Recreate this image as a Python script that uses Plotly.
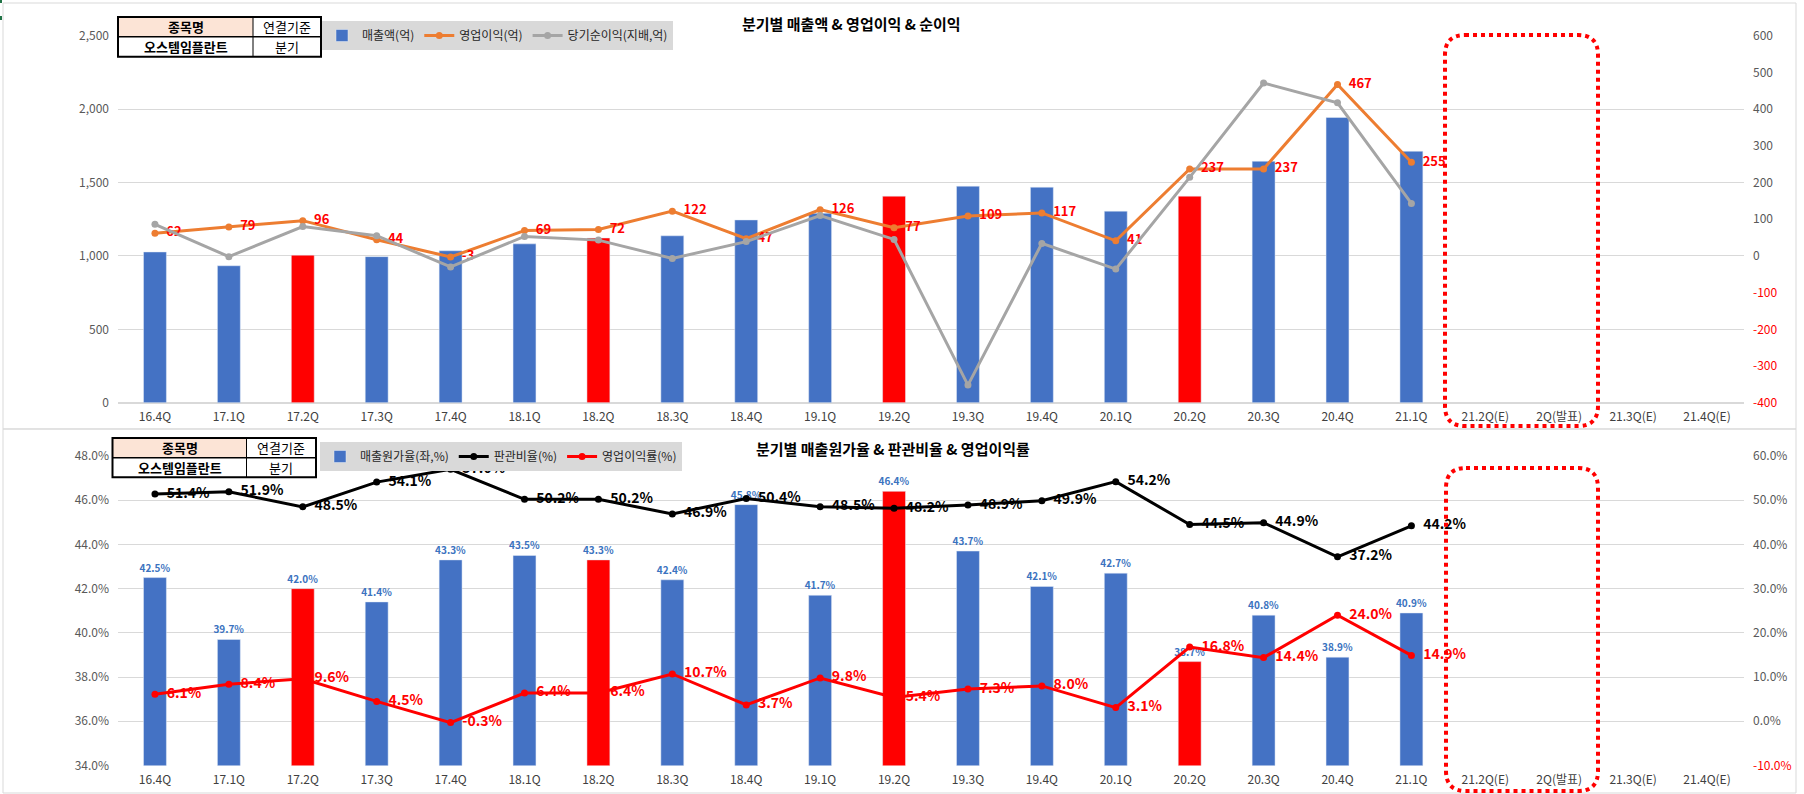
import plotly.graph_objects as go

W, H = 1804, 794

def px(x):
    return x / W

def py(y):
    return 1 - y / H

# categories
quarters = ["16.4Q", "17.1Q", "17.2Q", "17.3Q", "17.4Q", "18.1Q", "18.2Q", "18.3Q", "18.4Q",
            "19.1Q", "19.2Q", "19.3Q", "19.4Q", "20.1Q", "20.2Q", "20.3Q", "20.4Q", "21.1Q"]
future_quarters = ["21.2Q(E)", "2Q(발표)", "21.3Q(E)", "21.4Q(E)"]
all_quarters = quarters + future_quarters

# top chart (억)
revenue = [1027, 933, 1005, 995, 1035, 1082, 1122, 1137, 1245, 1290, 1407, 1475, 1468, 1305,
           1407, 1645, 1943, 1713]
op_profit = [62, 79, 96, 44, -3, 69, 72, 122, 47, 126, 77, 109, 117, 41, 237, 237, 467, 255]
net_income = [86, -2, 80, 55, -30, 53, 43, -7, 39, 110, 45, -352, 34, -36, 214, 471, 417, 143]

# bottom chart (%)
cost_ratio = [42.5, 39.7, 42.0, 41.4, 43.3, 43.5, 43.3, 42.4, 45.8, 41.7, 46.4, 43.7, 42.1, 42.7,
              38.7, 40.8, 38.9, 40.9]
sga_ratio = [51.4, 51.9, 48.5, 54.1, 57.0, 50.2, 50.2, 46.9, 50.4, 48.5, 48.2, 48.9, 49.9, 54.2,
             44.5, 44.9, 37.2, 44.2]
op_margin = [6.1, 8.4, 9.6, 4.5, -0.3, 6.4, 6.4, 10.7, 3.7, 9.8, 5.4, 7.3, 8.0, 3.1, 16.8, 14.4,
             24.0, 14.9]

top_right_ticks = [600, 500, 400, 300, 200, 100, 0, -100, -200, -300, -400]
bottom_right_ticks = [60, 50, 40, 30, 20, 10, 0, -10]

BLUE = "#4472C4"
RED = "#FF0000"
FONT = "Noto Sans CJK KR"
GAP = "\u00a0\u00a0"  # space between marker and its label

# 2Q bars are highlighted red
bar_colors = [RED if q.endswith("2Q") else BLUE for q in quarters]

fig = go.Figure()

# ---- top chart
fig.add_trace(go.Bar(x=quarters, y=revenue, name="매출액(억)", marker_color=bar_colors,
                     width=0.31, xaxis="x", yaxis="y", legend="legend"))
fig.add_trace(go.Scatter(x=quarters, y=op_profit, name="영업이익(억)", mode="lines+markers+text",
                         line=dict(color="#ED7D31", width=3), marker=dict(size=7),
                         text=[GAP + str(v) for v in op_profit], textposition="middle right",
                         textfont=dict(color=RED, size=13, weight="bold"),
                         cliponaxis=False, xaxis="x", yaxis="y2", legend="legend"))
fig.add_trace(go.Scatter(x=quarters, y=net_income, name="당기순이익(지배,억)", mode="lines+markers",
                         line=dict(color="#A5A5A5", width=3), marker=dict(size=7),
                         xaxis="x", yaxis="y2", legend="legend"))

# ---- bottom chart
fig.add_trace(go.Bar(x=quarters, y=cost_ratio, name="매출원가율(좌,%)", marker_color=bar_colors,
                     width=0.31, text=[f"{v:.1f}%" for v in cost_ratio], textposition="outside",
                     textfont=dict(color="#3B73C0", size=10, weight="bold"), constraintext="none",
                     cliponaxis=False, xaxis="x2", yaxis="y3", legend="legend2"))
fig.add_trace(go.Scatter(x=quarters, y=sga_ratio, name="판관비율(%)", mode="lines+markers+text",
                         line=dict(color="black", width=3), marker=dict(size=7),
                         text=[f"{GAP}{v:.1f}%" for v in sga_ratio], textposition="middle right",
                         textfont=dict(color="black", size=14, weight="bold"),
                         cliponaxis=False, xaxis="x2", yaxis="y4", legend="legend2"))
fig.add_trace(go.Scatter(x=quarters, y=op_margin, name="영업이익률(%)", mode="lines+markers+text",
                         line=dict(color=RED, width=3), marker=dict(size=7),
                         text=[f"{GAP}{v:.1f}%" for v in op_margin], textposition="middle right",
                         textfont=dict(color=RED, size=14, weight="bold"),
                         cliponaxis=False, xaxis="x2", yaxis="y4", legend="legend2"))


def right_labels(vals, fmt):
    out = []
    for v in vals:
        s = fmt.format(v)
        out.append(f'<span style="color:{RED}">{s}</span>' if v < 0 else s)
    return out


x_dom = [px(118), px(1744)]
xcommon = dict(domain=x_dom, type="category", categoryorder="array", categoryarray=all_quarters,
               range=[-0.5, len(all_quarters) - 0.5], showgrid=False, showline=False,
               tickfont=dict(size=12, color="#404040"), ticks="", ticklabelstandoff=5,
               automargin=False)
gridc = "#D9D9D9"
tickf = dict(size=12, color="#595959")

fig.update_layout(
    width=W, height=H,
    margin=dict(l=0, r=0, t=0, b=0, autoexpand=False),
    paper_bgcolor="white", plot_bgcolor="white",
    font=dict(family=FONT, color="#262626"),
    barmode="overlay",
    xaxis=dict(anchor="y", **xcommon),
    xaxis2=dict(anchor="y3", **xcommon),
    yaxis=dict(domain=[py(402.7), py(35.7)], range=[0, 2500], dtick=500, tickformat=",",
               gridcolor=gridc, zeroline=True, zerolinecolor=gridc, tickfont=tickf,
               ticklabelstandoff=8, automargin=False),
    yaxis2=dict(overlaying="y", side="right", range=[-400, 600], showgrid=False, zeroline=False,
                tickvals=top_right_ticks, ticktext=right_labels(top_right_ticks, "{}"),
                tickfont=tickf, ticklabelstandoff=8, automargin=False),
    yaxis3=dict(domain=[py(765.5), py(456)], range=[34, 48], dtick=2, tickformat=".1f",
                ticksuffix="%", gridcolor=gridc, zeroline=False, tickfont=tickf,
                ticklabelstandoff=8, automargin=False),
    yaxis4=dict(overlaying="y3", side="right", range=[-10, 60], showgrid=False, zeroline=False,
                tickvals=bottom_right_ticks, ticktext=right_labels(bottom_right_ticks, "{:.1f}%"),
                tickfont=tickf, ticklabelstandoff=8, automargin=False),
    legend=dict(orientation="h", x=px(322), y=py(21), xanchor="left", yanchor="top",
                bgcolor="#D9D9D9", font=dict(size=12, color="#262626"), itemwidth=30),
    legend2=dict(orientation="h", x=px(320), y=py(442), xanchor="left", yanchor="top",
                 bgcolor="#D9D9D9", font=dict(size=12, color="#262626"), itemwidth=30),
)

shapes = []
annotations = []

# chart frames
for y0, y1 in [(3, 429), (429, 793)]:
    shapes.append(dict(type="rect", xref="paper", yref="paper", x0=px(3), x1=px(1796),
                       y0=py(y1), y1=py(y0), line=dict(color=gridc, width=1),
                       fillcolor="rgba(0,0,0,0)", layer="below"))
for y0, y1 in [(0, 3), (16, 20)]:
    shapes.append(dict(type="line", xref="paper", yref="paper", x0=px(1), x1=px(1),
                       y0=py(y0), y1=py(y1), line=dict(color="#217346", width=2)))


# stock name tables
def table(x0, xm, x1, y0, ym, y1):
    shapes.append(dict(type="rect", xref="paper", yref="paper", x0=px(x0), x1=px(xm),
                       y0=py(ym), y1=py(y0), fillcolor="#FCE4D6", line=dict(width=0),
                       layer="above"))
    shapes.append(dict(type="rect", xref="paper", yref="paper", x0=px(xm), x1=px(x1),
                       y0=py(ym), y1=py(y0), fillcolor="white", line=dict(width=0),
                       layer="above"))
    shapes.append(dict(type="rect", xref="paper", yref="paper", x0=px(x0), x1=px(x1),
                       y0=py(y1), y1=py(ym), fillcolor="white", line=dict(width=0),
                       layer="above"))
    shapes.append(dict(type="line", xref="paper", yref="paper", x0=px(x0), x1=px(x1),
                       y0=py(ym), y1=py(ym), line=dict(color="black", width=1.5), layer="above"))
    shapes.append(dict(type="line", xref="paper", yref="paper", x0=px(xm), x1=px(xm),
                       y0=py(y1), y1=py(y0), line=dict(color="black", width=1), layer="above"))
    shapes.append(dict(type="rect", xref="paper", yref="paper", x0=px(x0), x1=px(x1),
                       y0=py(y1), y1=py(y0), line=dict(color="black", width=2), layer="above"))
    cells = [("종목명", (x0 + xm) / 2, (y0 + ym) / 2, "bold"),
             ("연결기준", (xm + x1) / 2, (y0 + ym) / 2, "normal"),
             ("오스템임플란트", (x0 + xm) / 2, (ym + y1) / 2, "bold"),
             ("분기", (xm + x1) / 2, (ym + y1) / 2, "normal")]
    for txt, cx, cy, wt in cells:
        annotations.append(dict(text=txt, xref="paper", yref="paper", x=px(cx), y=py(cy),
                                showarrow=False, xanchor="center", yanchor="middle",
                                font=dict(size=13, color="black", weight=wt)))


table(118, 253, 321, 17, 36.7, 56.7)
table(112.5, 246.5, 316, 438, 457.7, 477.3)


# dotted rounded boxes around the estimate quarters
def rounded_box(x0, x1, y0, y1, r=20):
    rx, ry = r / W, r / H
    X0, X1, Yt, Yb = px(x0), px(x1), py(y0), py(y1)
    path = (f"M {X0 + rx},{Yt} L {X1 - rx},{Yt} Q {X1},{Yt} {X1},{Yt - ry} "
            f"L {X1},{Yb + ry} Q {X1},{Yb} {X1 - rx},{Yb} L {X0 + rx},{Yb} "
            f"Q {X0},{Yb} {X0},{Yb + ry} L {X0},{Yt - ry} Q {X0},{Yt} {X0 + rx},{Yt} Z")
    shapes.append(dict(type="path", xref="paper", yref="paper", path=path,
                       line=dict(color=RED, width=4, dash="dot"), layer="above"))


rounded_box(1445, 1598, 35, 426)
rounded_box(1446, 1598, 468, 791)

# titles
annotations.append(dict(text="분기별 매출액 & 영업이익 & 순이익", xref="paper", yref="paper",
                        x=px(851), y=py(24), showarrow=False, xanchor="center", yanchor="middle",
                        font=dict(size=15, color="black", weight="bold")))
annotations.append(dict(text="분기별 매출원가율 & 판관비율 & 영업이익률", xref="paper", yref="paper",
                        x=px(893), y=py(448), showarrow=False, xanchor="center", yanchor="middle",
                        font=dict(size=15, color="black", weight="bold")))

fig.update_layout(shapes=shapes, annotations=annotations)

fig.write_html("out.html", config={"displayModeBar": False},
               post_script="document.body.style.margin='0';")
